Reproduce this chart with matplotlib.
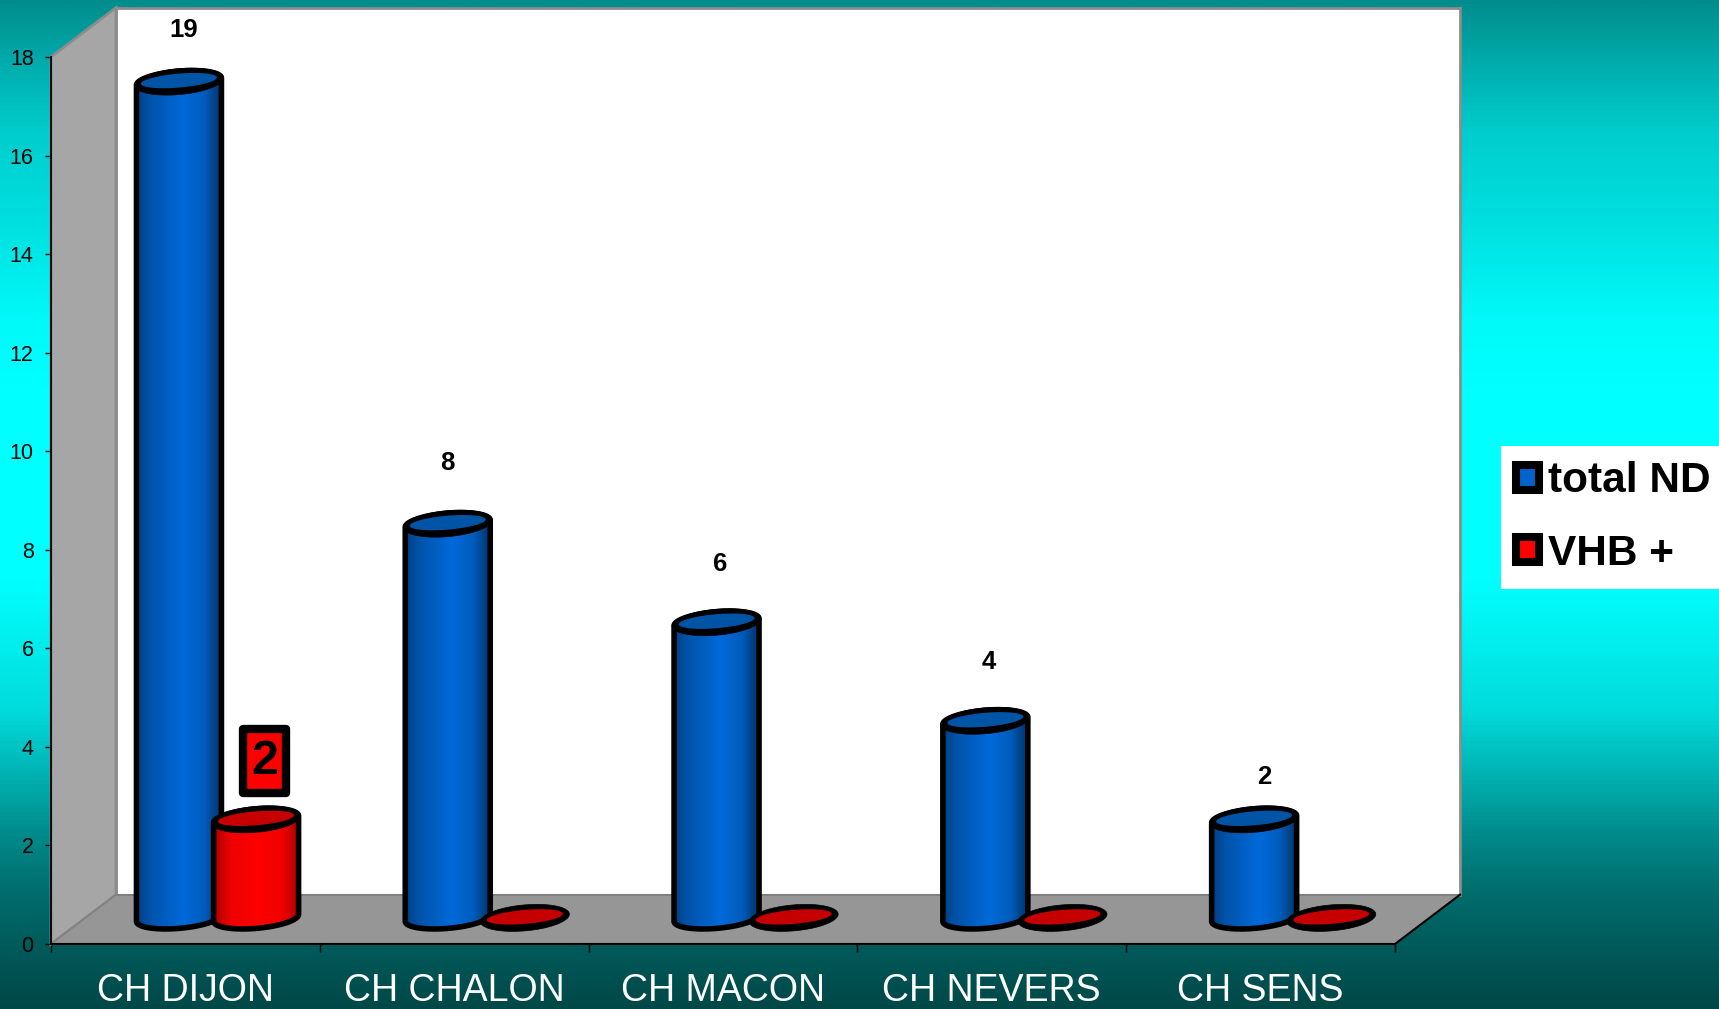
import numpy as np
import matplotlib
matplotlib.use('Agg')
import matplotlib.pyplot as plt
from matplotlib.colors import LinearSegmentedColormap as LSC
from matplotlib.patches import Polygon, Rectangle, Patch

plt.rcParams['font.family'] = ['Liberation Sans', 'DejaVu Sans']

# data
hospitals = ['CH DIJON', 'CH CHALON', 'CH MACON', 'CH NEVERS', 'CH SENS']
total_nd = [19, 8, 6, 4, 2]
vhb_pos = [2, 0, 0, 0, 0]
y_ticks = [0, 2, 4, 6, 8, 10, 12, 14, 16, 18]

# the tallest cylinder is cut by the chart frame, its label still says 19
bar_clip = 16.97
label_x = [0.495, 1.475, 2.49, 3.49, 4.515]
label_y = [18.54, 9.77, 7.71, 5.72, 3.39]

W, H = 1719, 1009
PX_X = 268.8    # pixels per category
PX_Y = 49.28    # pixels per y unit
X0, Y0 = 51, 944
DEPTH_X, DEPTH_Y = 65 / PX_X, 1.0   # depth of the 3D box
BASE_Y = 0.53
BLUE_POS, RED_POS = 0.476, 0.763
A = 42.5 / PX_X
B = 10.5 / PX_Y
TILT = 3.5 / PX_Y

fig = plt.figure(figsize=(W / 100, H / 100), dpi=100)
ax = fig.add_axes([0, 0, 1, 1])
xlim = (-X0 / PX_X, (W - X0) / PX_X)
ylim = ((Y0 - H) / PX_Y, Y0 / PX_Y)

# slide background
bg_stops = [(0, '#008c8c'), (0.064, '#00adad'), (0.128, '#00cccc'), (0.223, '#00e0e0'),
            (0.32, '#00fafa'), (0.383, '#00ffff'), (0.575, '#00ffff'), (0.702, '#00dcdc'),
            (0.765, '#00b4b4'), (0.829, '#008a8a'), (0.892, '#006a6a'), (0.956, '#005555'),
            (1, '#004848')]
bg = LSC.from_list('bg', bg_stops)
ax.imshow(np.linspace(0, 1, 1024).reshape(-1, 1), cmap=bg, aspect='auto',
          extent=(xlim[0], xlim[1], ylim[0], ylim[1]), origin='upper', zorder=0)

# 3D box: back wall, side wall, floor
n = len(hospitals)
top = max(y_ticks)
ax.add_patch(Rectangle((DEPTH_X, DEPTH_Y), n, top, fc='white', ec='#8c8c8c', lw=2, zorder=1))
wall = Polygon([(0, 0), (DEPTH_X, DEPTH_Y), (DEPTH_X, top + DEPTH_Y), (0, top)],
               fc='#a6a6a6', ec='#8c8c8c', lw=2, zorder=2)
ax.add_patch(wall)
floor = Polygon([(0, 0), (n, 0), (n + DEPTH_X, DEPTH_Y), (DEPTH_X, DEPTH_Y)],
                fc='#969696', ec='none', zorder=2)
ax.add_patch(floor)
ax.plot([0, DEPTH_X], [0, DEPTH_Y], color='#808080', lw=1.2, zorder=3)
ax.plot([DEPTH_X, n + DEPTH_X], [DEPTH_Y, DEPTH_Y], color='#808080', lw=1.5, zorder=3)
ax.plot([n, n + DEPTH_X], [0, DEPTH_Y], color='black', lw=1.5, zorder=3)


def arc(cx, cy, t0, t1, a=A, b=B):
    t = np.linspace(t0, t1, 60)
    tilt = TILT * a / A
    return np.column_stack([cx + a * np.cos(t), cy + b * np.sin(t) + tilt * np.cos(t)])


def cylinder(cx, value, side_cmap, top_color, z):
    base = BASE_Y
    cy = base + value
    if value > 0:
        pts = np.vstack([arc(cx, base, np.pi, 2 * np.pi), arc(cx, cy, 0, np.pi)])
        body = Polygon(pts, fc='none', ec='none', zorder=z)
        ax.add_patch(body)
        im = ax.imshow(np.linspace(0, 1, 128).reshape(1, -1), cmap=side_cmap, aspect='auto',
                       extent=(cx - A, cx + A, base - 2 * B, cy + 2 * B), zorder=z)
        im.set_clip_path(body)
        ax.add_patch(Polygon(pts, fc='none', ec='black', lw=4, joinstyle='round', zorder=z + 0.1))
    # rim: black ring, heavier on the lower side
    ax.add_patch(Polygon(arc(cx, cy, 0, 2 * np.pi, A + 2 / PX_X, B + 2.5 / PX_Y),
                         fc='black', ec='black', lw=0.5, zorder=z + 0.2))
    ax.add_patch(Polygon(arc(cx, cy + 1 / PX_Y, 0, 2 * np.pi, A - 4.5 / PX_X, B - 3.5 / PX_Y),
                         fc=top_color, ec='none', zorder=z + 0.3))


blue_side = LSC.from_list('blue', [(0, '#003f80'), (0.15, '#0052a8'), (0.55, '#006ada'),
                                   (0.8, '#005cbc'), (1, '#003266')])
red_side = LSC.from_list('red', [(0, '#b00000'), (0.2, '#ee0000'), (0.5, '#ff0000'),
                                 (0.8, '#f00000'), (1, '#a80000')])

for i in range(n):
    cylinder(i + BLUE_POS, min(total_nd[i], bar_clip), blue_side, '#0054a6', 5 + i * 0.01)
for i in range(n):
    cylinder(i + RED_POS, vhb_pos[i], red_side, '#c60000', 6 + i * 0.01)

# value labels
for x, y, v in zip(label_x, label_y, total_nd):
    ax.text(x, y, str(v), ha='center', va='center', fontsize=18.5, fontweight='bold', color='black', zorder=8)

# boxed label of the only non zero red bar
box_x = 0.794
ax.add_patch(Rectangle((box_x - 21.2 / PX_X, 3.064), 42.5 / PX_X, 1.30, fc='#ff0000', ec='black',
                       lw=6, joinstyle='round', zorder=8))
ax.text(box_x, 3.70, str(vhb_pos[0]), ha='center', va='center', fontsize=35, fontweight='bold', zorder=9)

# axes
ax.set_xlim(xlim)
ax.set_ylim(ylim)
for s in ['top', 'right']:
    ax.spines[s].set_visible(False)
ax.spines['left'].set_position(('data', 0))
ax.spines['bottom'].set_position(('data', 0))
ax.spines['left'].set_bounds(0, top)
ax.spines['bottom'].set_bounds(0, n)
ax.spines['left'].set_linewidth(1.3)
ax.spines['bottom'].set_linewidth(1.5)
ax.spines['left'].set_zorder(4)
ax.spines['bottom'].set_zorder(4)
ax.set_yticks(y_ticks)
ax.set_xticks(range(n + 1))
ax.set_xticklabels([])
ax.set_xticks(np.arange(n) + 0.5, minor=True)
ax.set_xticklabels(hospitals, minor=True)
ax.tick_params(axis='y', labelsize=15.5, length=4.5, width=1, pad=8, colors='black')
ax.tick_params(axis='x', which='major', length=6, width=1)
ax.tick_params(axis='x', which='minor', length=0, labelsize=27, labelcolor='white', pad=21)

# legend
handles = [Patch(fc='#0062cc', ec='black', lw=5.8, joinstyle='round', label='total ND'),
           Patch(fc='#ff0000', ec='black', lw=5.8, joinstyle='round', label='VHB +')]
leg = ax.legend(handles=handles, loc='center left', bbox_to_anchor=(1501 / W, 1 - 517.5 / H),
                bbox_transform=fig.transFigure, borderaxespad=0,
                prop={'weight': 'bold', 'size': 30.5}, frameon=True, fancybox=False,
                framealpha=1, facecolor='white', edgecolor='none', handlelength=0.53,
                handleheight=0.53, handletextpad=0.22, labelspacing=0.76, borderpad=0.36)
leg.set_zorder(10)

fig.savefig('out.png', dpi=100)
